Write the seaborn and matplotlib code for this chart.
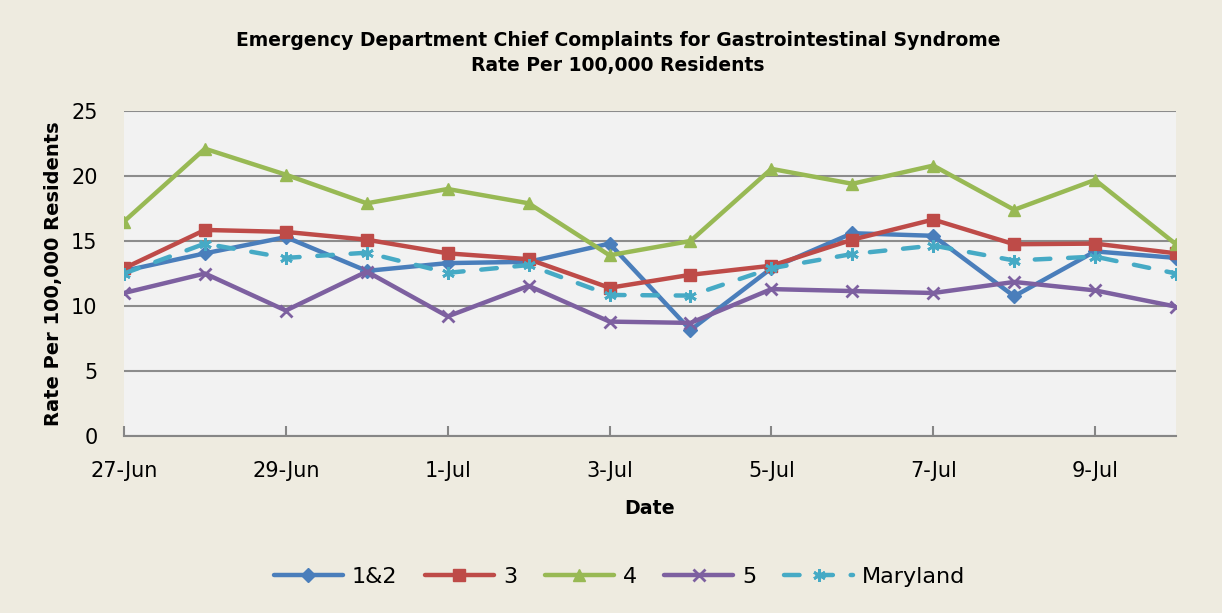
import matplotlib
matplotlib.use("Agg")
import matplotlib.pyplot as plt
import seaborn as sns
import pandas as pd

dates = ["27-Jun", "28-Jun", "29-Jun", "30-Jun", "1-Jul", "2-Jul", "3-Jul",
         "4-Jul", "5-Jul", "6-Jul", "7-Jul", "8-Jul", "9-Jul", "10-Jul"]
s12 = [12.7, 14.05, 15.3, 12.7, 13.3, 13.4, 14.8, 8.15, 12.9, 15.6, 15.4, 10.75, 14.2, 13.7]
s3 = [12.9, 15.85, 15.7, 15.1, 14.05, 13.6, 11.4, 12.4, 13.1, 15.1, 16.65, 14.75, 14.8, 14.05]
s4 = [16.5, 22.1, 20.1, 17.9, 19.0, 17.9, 13.9, 15.0, 20.55, 19.4, 20.8, 17.4, 19.7, 14.75]
s5 = [11.0, 12.5, 9.65, 12.65, 9.2, 11.55, 8.8, 8.7, 11.3, 11.15, 11.0, 11.85, 11.2, 9.95]
smd = [12.5, 14.8, 13.7, 14.1, 12.55, 13.15, 10.85, 10.8, 12.9, 14.0, 14.65, 13.5, 13.8, 12.5]
series_names = ["1&2", "3", "4", "5", "Maryland"]
tick_labels = ["27-Jun", "29-Jun", "1-Jul", "3-Jul", "5-Jul", "7-Jul", "9-Jul"]

colors = ["#4A7EBB", "#BE4B48", "#98B954", "#7D60A0", "#46AAC5"]
markers = ["D", "s", "^", "x", (6, 2, 0)]
msizes = [7, 9, 9, 8, 9]

rows = []
for name, vals in zip(series_names, [s12, s3, s4, s5, smd]):
    for i, v in enumerate(vals):
        rows.append({"idx": i, "date": dates[i], "value": v, "series": name})
df = pd.DataFrame(rows)

sns.set_theme(style="white")
plt.rcParams["font.family"] = ["DejaVu Sans"]
plt.rcParams["text.color"] = "black"
plt.rcParams["axes.labelcolor"] = "black"
plt.rcParams["xtick.labelcolor"] = "black"
plt.rcParams["ytick.labelcolor"] = "black"

fig = plt.figure(figsize=(12.22, 6.13), dpi=100)
fig.patch.set_facecolor("#EEEBE0")
ax = fig.add_axes([124 / 1222, 1 - 436 / 613, (1176 - 124) / 1222, (436 - 111) / 613])
ax.set_facecolor("#F2F2F2")

handles = []
for name, c, m, ms in zip(series_names, colors, markers, msizes):
    sub = df[df["series"] == name]
    dashed = name == "Maryland"
    sns.lineplot(data=sub, x="idx", y="value", ax=ax, color=c, linewidth=3.2,
                 marker=m, markersize=ms, markeredgecolor=c,
                 markeredgewidth=2 if m in ("x", (6, 2, 0)) else 1,
                 linestyle=(0, (3.5, 4)) if dashed else "-", dash_capstyle="round",
                 solid_capstyle="round", label=name, legend=False, zorder=3)
    handles.append(ax.lines[-1])

ax.set_xlim(0, 13)
ax.set_ylim(0, 25)
ax.set_yticks([0, 5, 10, 15, 20, 25])
ax.yaxis.grid(True, color="#8C8C8C", linewidth=1.5)
ax.xaxis.grid(False)
ax.set_axisbelow(True)
tick_pos = [dates.index(t) for t in tick_labels]
ax.set_xticks(tick_pos)
ax.set_xticklabels(tick_labels)
for sp in ["top", "right", "left"]:
    ax.spines[sp].set_visible(False)
ax.spines["bottom"].set_color("#868686")
ax.spines["bottom"].set_linewidth(1.5)
ax.tick_params(axis="x", direction="in", length=7, width=1.5, color="#868686",
               labelsize=15, pad=18, bottom=True)
ax.tick_params(axis="y", length=0, labelsize=15, pad=19)
ax.set_xlabel("Date", fontsize=13.7, fontweight="bold", labelpad=13)
ax.set_ylabel("Rate Per 100,000 Residents", fontsize=14, fontweight="bold", labelpad=6)

fig.text(0.5057, 1 - 40 / 613, "Emergency Department Chief Complaints for Gastrointestinal Syndrome",
         ha="center", va="center", fontsize=13.5, fontweight="bold")
fig.text(0.5057, 1 - 66 / 613, "Rate Per 100,000 Residents",
         ha="center", va="center", fontsize=13.5, fontweight="bold")

fig.legend(handles, series_names, loc="center", bbox_to_anchor=(0.507, 1 - 577 / 613),
           ncol=5, frameon=False, fontsize=16, handlelength=3.1, columnspacing=1.25,
           handletextpad=0.4)

fig.savefig("out.png", dpi=100, facecolor=fig.get_facecolor())
